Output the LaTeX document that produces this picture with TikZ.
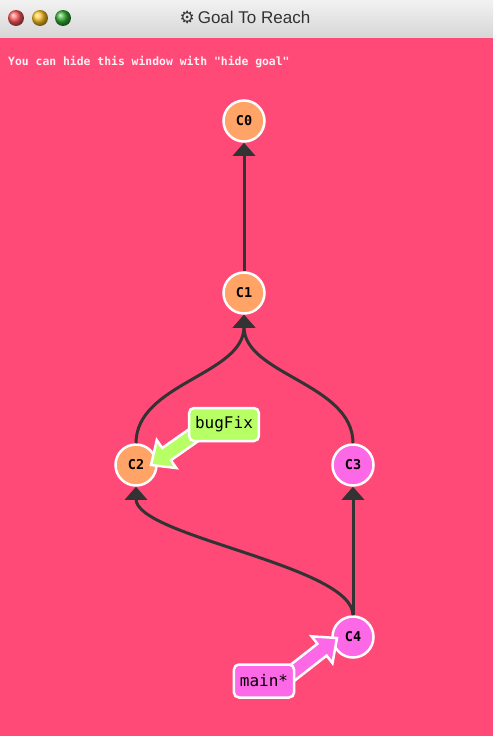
\documentclass[tikz,border=0pt]{standalone}
\usepackage{fontspec}
\setmainfont{Liberation Sans}
\setmonofont{DejaVu Sans Mono}
\newfontfamily\gearfont{DejaVu Sans}
\usetikzlibrary{calc,arrows.meta}
\definecolor{goalbg}{RGB}{255,74,120}
\definecolor{orangec}{RGB}{255,163,102}
\definecolor{magentac}{RGB}{252,104,230}
\definecolor{greenb}{RGB}{184,255,102}
\definecolor{edgec}{RGB}{51,51,51}
\tikzset{commit/.style={circle, draw=white, line width=2.5pt, minimum size=41pt, inner sep=0pt, font=\ttfamily\bfseries\fontsize{13.5}{14}\selectfont},
  edge/.style={draw=edgec, line width=3pt, -{Triangle[width=22pt,length=13pt]}},
  branch/.style={draw=white, line width=2.5pt, rounded corners=5pt, inner xsep=6pt, minimum height=33pt, font=\ttfamily\fontsize{16}{16}\selectfont},
  ptr/.style={draw=white, line width=2.5pt, line join=miter}}
% fat pointer ending at commit tip #1, turned by #2 towards its label
\newcommand{\branchptr}[3]{%
  \draw[ptr, fill=#3, shift={(#1)}, rotate=#2] (0,0) -- (19,17) -- (19,7.5)
    -- (78,7.5) -- (78,-7.5) -- (19,-7.5) -- (19,-17) -- cycle;}

\begin{document}
\begin{tikzpicture}[x=1pt,y=-1pt]
  \useasboundingbox (0,0) rectangle (493,736);
  \fill[goalbg] (0,37) rectangle (493,736);
  \shade[top color=gray!10, bottom color=gray!32] (0,0) rectangle (493,37);
  \shade[ball color=red!65!white] (16,18) circle (8);
  \shade[ball color=orange!55!yellow!85!white] (40,18) circle (8);
  \shade[ball color=green!60!black!80!white] (63,18) circle (8);
  \node[text=black!80, font=\fontsize{17}{17}\selectfont] (title) at (245,17) {{\gearfont\fontsize{17}{17}\selectfont ⚙}\,Goal To Reach};
  \node[anchor=west, inner sep=0pt, text=white!92!goalbg, font=\ttfamily\bfseries\fontsize{11.4}{12}\selectfont] (hint) at (8,62) {You can hide this window with "hide goal"};

  \begin{scope}
   \node[commit, fill=orangec]  (c0) at (244,121) {C0};
   \node[commit, fill=orangec]  (c1) at (244,293) {C1};
   \node[commit, fill=orangec]  (c2) at (136,465) {C2};
   \node[commit, fill=magentac] (c3) at (353,465) {C3};
   \node[commit, fill=magentac] (c4) at (353,637) {C4};
   \draw[edge] (c1) -- (c0);
   \draw[edge] (c2.north) .. controls +(0,-60) and +(0,60) .. (c1.south);
   \draw[edge] (c3.north) .. controls +(0,-60) and +(0,60) .. (c1.south);
   \draw[edge] (c4) -- (c3);
   \draw[edge] (c4.north) .. controls +(0,-50) and +(0,50) .. (c2.south);
  \end{scope}

  \begin{scope}
   \coordinate (bugfixtip) at ($(c2)+(15,0)$);
   \coordinate (maintip)   at ($(c4)+(-16,1)$);
   \branchptr{bugfixtip}{35}{greenb}
   \branchptr{maintip}{218}{magentac}
   \node[branch, fill=greenb]   (bugfix) at (224,424.5) {bugFix};
   \node[branch, fill=magentac] (main)   at (264,681) {main*};
  \end{scope}
\end{tikzpicture}
\end{document}
